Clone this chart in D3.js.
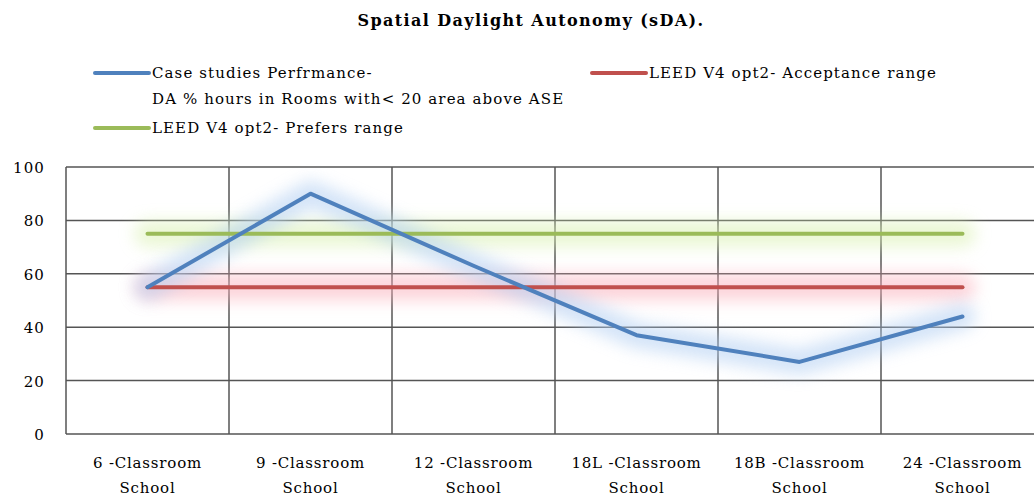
<!DOCTYPE html>
<html>
<head>
<meta charset="utf-8">
<script src="https://cdn.jsdelivr.net/npm/d3@7"></script>
<style>
  body { margin: 0; background: #fff; }
  text { font-family: "DejaVu Serif", "Liberation Serif", serif; fill: #000; font-size: 15px; letter-spacing: 1.1px; }
</style>
</head>
<body>
<script>
// data
var categories = ["6 -Classroom School", "9 -Classroom School", "12 -Classroom School",
                  "18L -Classroom School", "18B -Classroom School", "24 -Classroom School"];
var casePerformance = [55, 90, 63, 37, 27, 44];
var acceptance = [55, 55, 55, 55, 55, 55];
var prefers = [75, 75, 75, 75, 75, 75];
var yTicks = [0, 20, 40, 60, 80, 100];

var margin = {top: 167, right: -10, bottom: 65, left: 66}
  , width = 1034 - margin.left - margin.right
  , height = 499 - margin.top - margin.bottom;

var svg = d3.select("body").append("svg")
    .attr("width", 1034)
    .attr("height", 499);

var defs = svg.append("defs");
defs.append("filter").attr("id", "glow")
    .attr("filterUnits", "userSpaceOnUse")
    .attr("x", -100).attr("y", -100).attr("width", 1300).attr("height", 700)
  .append("feGaussianBlur").attr("stdDeviation", 8);

var g = svg.append("g")
    .attr("transform", "translate(" + margin.left + "," + margin.top + ")");

var xScale = d3.scaleBand().domain(categories).range([0, width]);
var yScale = d3.scaleLinear().domain([0, 100]).range([height, 0]);

// grid
g.selectAll(".hgrid").data(yTicks).enter().append("line")
    .attr("x1", 0).attr("x2", width)
    .attr("y1", function(d) { return yScale(d); })
    .attr("y2", function(d) { return yScale(d); })
    .attr("stroke", "#555").attr("stroke-width", 1.5);

var bounds = categories.map(function(c) { return xScale(c); }).concat([width]);
g.selectAll(".vgrid").data(bounds).enter().append("line")
    .attr("x1", function(d) { return d; }).attr("x2", function(d) { return d; })
    .attr("y1", 0).attr("y2", height)
    .attr("stroke", "#555").attr("stroke-width", 1.5);

// y labels
g.selectAll(".ylab").data(yTicks).enter().append("text")
    .attr("x", -21)
    .attr("y", function(d) { return yScale(d) + 6; })
    .attr("text-anchor", "end")
    .text(function(d) { return d; });

// x labels
var xl = g.selectAll(".xlab").data(categories).enter().append("text")
    .attr("text-anchor", "middle")
    .style("letter-spacing", "0.8px");
xl.append("tspan")
    .attr("x", function(d) { return xScale(d) + xScale.bandwidth() / 2; })
    .attr("y", height + 34)
    .text(function(d) { return d.replace(" School", ""); });
xl.append("tspan")
    .attr("x", function(d) { return xScale(d) + xScale.bandwidth() / 2; })
    .attr("y", height + 59)
    .text("School");

var series = [
  {values: prefers, color: "#9bbb59", glow: "#d9f0b0"},
  {values: acceptance, color: "#c0504d", glow: "#fbb0bc"},
  {values: casePerformance, color: "#4f81bd", glow: "#b0cef2"}
];

var line = d3.line()
    .x(function(d, i) { return xScale(categories[i]) + xScale.bandwidth() / 2; })
    .y(function(d) { return yScale(d); });

series.forEach(function(s) {
  g.append("path")
      .attr("d", line(s.values))
      .attr("fill", "none")
      .attr("stroke", s.glow)
      .attr("stroke-width", 26)
      .attr("stroke-linecap", "round")
      .attr("stroke-linejoin", "round")
      .attr("opacity", 0.55)
      .attr("filter", "url(#glow)");
});
series.forEach(function(s) {
  g.append("path")
      .attr("d", line(s.values))
      .attr("fill", "none")
      .attr("stroke", s.color)
      .attr("stroke-width", 4)
      .attr("stroke-linecap", "round")
      .attr("stroke-linejoin", "round");
});

// title
svg.append("text")
    .attr("x", 531).attr("y", 26)
    .attr("text-anchor", "middle")
    .style("font-weight", "bold")
    .style("font-size", "16px")
    .style("letter-spacing", "1.4px")
    .text("Spatial Daylight Autonomy (sDA).");

// legend
var legend = [
  {x: 95, y: 73, color: "#4f81bd", lines: ["Case studies Perfrmance-", "DA % hours in Rooms with< 20 area above ASE"]},
  {x: 592, y: 73, color: "#c0504d", lines: ["LEED V4 opt2- Acceptance range"]},
  {x: 95, y: 128, color: "#9bbb59", lines: ["LEED V4 opt2- Prefers range"]}
];
legend.forEach(function(l) {
  svg.append("line")
      .attr("x1", l.x).attr("x2", l.x + 54)
      .attr("y1", l.y).attr("y2", l.y)
      .attr("stroke", l.color).attr("stroke-width", 4)
      .attr("stroke-linecap", "round");
  l.lines.forEach(function(t, i) {
    svg.append("text")
        .attr("x", l.x + 57).attr("y", l.y + 5 + i * 26)
        .text(t);
  });
});
</script>
</body>
</html>
